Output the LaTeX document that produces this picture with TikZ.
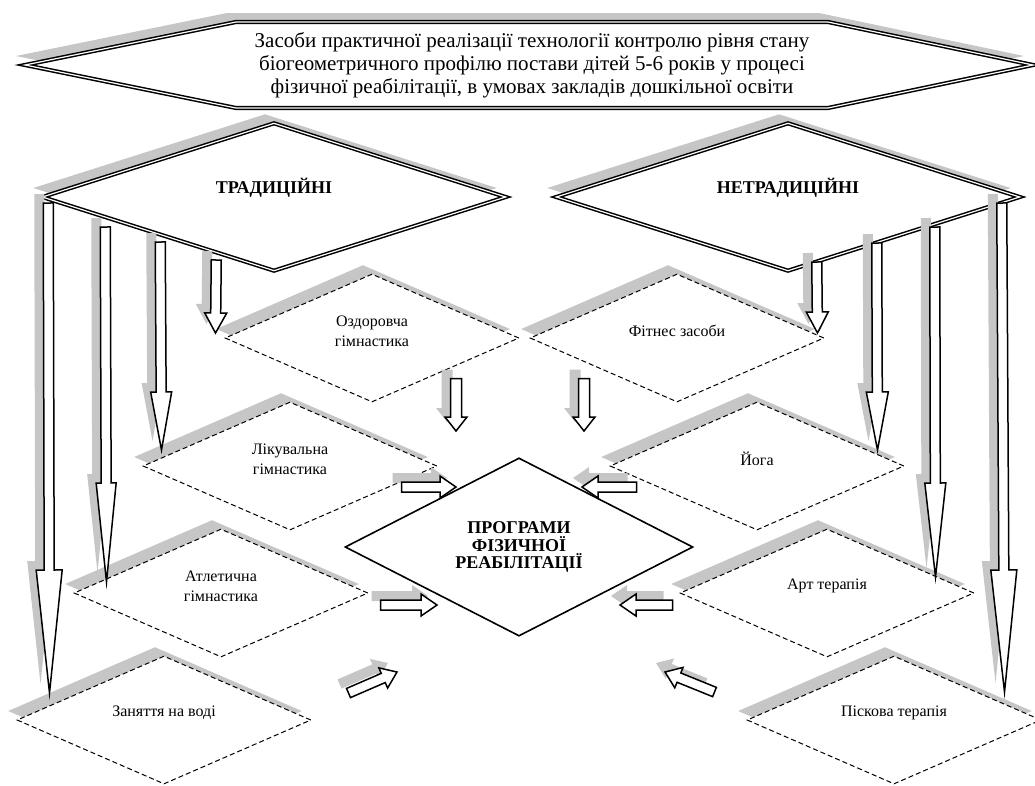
\documentclass[tikz,border=0pt]{standalone}
\usepackage{fontspec}
\setmainfont{Liberation Serif}
\usetikzlibrary{shapes.geometric,calc,shadows}

% hollow block arrow: from, to, half shaft, half head, head length
\newcommand\blockarrow[5]{%
  \coordinate (bm) at ($(#2)!#5!(#1)$);
  \filldraw[barrow] ($(#1)!#3!90:(#2)$) -- ($(bm)!#3!90:(#2)$) -- ($(bm)!#4!90:(#2)$)
    -- (#2) -- ($(bm)!#4!-90:(#2)$) -- ($(bm)!#3!-90:(#2)$) -- ($(#1)!#3!-90:(#2)$) -- cycle;}

\begin{document}
\begin{tikzpicture}[
  x = 1pt, y = -1pt,
  greyshadow/.style = {drop shadow={shadow xshift=-9pt, shadow yshift=9pt,
                       fill=gray!45, opacity=1}},
  boldframe/.style  = {draw, line width=1.5pt, double=white, double distance=1.2pt,
                       fill=white, greyshadow},
  kind/.style       = {boldframe, diamond, inner sep=0pt,
                       minimum width=464pt, minimum height=148pt},
  kindtext/.style   = {font=\fontsize{18}{20}\selectfont\bfseries, yshift=9pt},
  means/.style      = {diamond, draw, dash pattern=on 5pt off 3pt, line width=1pt,
                       fill=white, greyshadow, inner sep=0pt,
                       minimum width=294pt, minimum height=128pt},
  meanstext/.style  = {align=center, font=\fontsize{16}{20}\selectfont, yshift=7pt},
  progbox/.style    = {diamond, draw, line width=1.6pt, fill=white, inner sep=0pt,
                       minimum width=348pt, minimum height=157pt, align=center,
                       font=\fontsize{18}{17.5}\selectfont\bfseries},
  barrow/.style     = {draw, line width=1.5pt, fill=white, greyshadow}
]
\useasboundingbox (0,0) rectangle (1035,785);

% ───────── goal ─────────
\coordinate (gc) at (532,65);
\draw[boldframe] ($(gc)+(-507,0)$) -- ($(gc)+(-296,-43)$) -- ($(gc)+(296,-43)$)
  -- ($(gc)+(501,0)$) -- ($(gc)+(296,43)$) -- ($(gc)+(-296,43)$) -- cycle;
\node[align=center, font=\fontsize{21}{23}\selectfont] (goal) at (gc)
  {Засоби практичної реалізації технології контролю рівня стану\\
   біогеометричного профілю постави дітей 5-6 років у процесі\\
   фізичної реабілітації, в умовах закладів дошкільної освіти};

% ───────── two kinds ─────────
\node[kind, label={[kindtext]center:ТРАДИЦІЙНІ}]   (trad) at (274,197) {};
\node[kind, label={[kindtext]center:НЕТРАДИЦІЙНІ}] (netr) at (788,197) {};

% ───────── traditional means ─────────
\node[means, label={[meanstext]center:{Оздоровча\\гімнастика}}]  (ozd) at (372,338) {};
\node[means, label={[meanstext]center:{Лікувальна\\гімнастика}}] (lik) at (290,466) {};
\node[means, label={[meanstext]center:{Атлетична\\гімнастика}}]  (atl) at (221,593) {};
\node[means, label={[meanstext]center:Заняття на воді}]          (zan) at (164,720) {};

% ───────── non-traditional means ─────────
\node[means, label={[meanstext]center:Фітнес засоби}]   (fit)  at (677,338) {};
\node[means, label={[meanstext]center:Йога}]            (yoga) at (757,466) {};
\node[means, label={[meanstext]center:Арт терапія}]     (art)  at (827,593) {};
\node[means, label={[meanstext]center:Піскова терапія}] (pisk) at (894,720) {};

% ───────── centre ─────────
\node[progbox] (prog) at (519,547) {ПРОГРАМИ\\ФІЗИЧНОЇ\\РЕАБІЛІТАЦІЇ};

% ───────── arrow ends ─────────
\coordinate (a1) at ($(trad.west)+(7,6)$);    \coordinate (a1e) at ($(zan.west)+(33,-27)$);
\coordinate (a2) at ($(trad.west)+(64,30)$);  \coordinate (a2e) at ($(atl.west)+(33,-11)$);
\coordinate (a3) at ($(trad.west)+(119,45)$); \coordinate (a3e) at ($(lik.west)+(19,-16)$);
\coordinate (a4) at ($(trad.west)+(175,63)$); \coordinate (a4e) at ($(ozd.west)+(-9,-5)$);

\coordinate (b1) at ($(netr.east)+(-19,6)$);   \coordinate (b1e) at ($(pisk.east)+(-37,-28)$);
\coordinate (b2) at ($(netr.east)+(-86,30)$);  \coordinate (b2e) at ($(art.east)+(-39,-16)$);
\coordinate (b3) at ($(netr.east)+(-144,46)$); \coordinate (b3e) at ($(yoga.east)+(-27,-16)$);
\coordinate (b4) at ($(netr.east)+(-204,65)$); \coordinate (b4e) at ($(fit.east)+(-7,-5)$);

\coordinate (c1) at ($(ozd.south)+(84,-24)$);  \coordinate (c1e) at ($(prog)+(-63,-116)$);
\coordinate (c2) at ($(fit.south)+(-93,-24)$); \coordinate (c2e) at ($(prog)+(65,-116)$);
\coordinate (c3) at ($(lik.east)+(-36,21)$);   \coordinate (c3e) at ($(prog)+(-63,-60)$);
\coordinate (c4) at ($(yoga.west)+(27,21)$);   \coordinate (c4e) at ($(prog)+(63,-60)$);
\coordinate (c5) at ($(atl.east)+(12,12)$);    \coordinate (c5e) at ($(prog)+(-82,58)$);
\coordinate (c6) at ($(art.west)+(-7,12)$);    \coordinate (c6e) at ($(prog)+(101,58)$);
\coordinate (c7) at ($(zan.east)+(37,-27)$);   \coordinate (c7e) at ($(prog)+(-122,125)$);
\coordinate (c8) at ($(pisk.west)+(-32,-28)$); \coordinate (c8e) at ($(prog)+(146,125)$);

% ───────── arrows ─────────
\blockarrow{a1}{a1e}{5pt}{13pt}{123pt}
\blockarrow{a2}{a2e}{5pt}{10pt}{99pt}
\blockarrow{a3}{a3e}{5pt}{10.5pt}{58pt}
\blockarrow{a4}{a4e}{5pt}{11pt}{20pt}

\blockarrow{b1}{b1e}{5pt}{13pt}{122pt}
\blockarrow{b2}{b2e}{5pt}{10.5pt}{94pt}
\blockarrow{b3}{b3e}{5pt}{11pt}{58pt}
\blockarrow{b4}{b4e}{5pt}{11pt}{21pt}

\blockarrow{c1}{c1e}{5.5pt}{11pt}{14pt}
\blockarrow{c2}{c2e}{5.5pt}{11pt}{14pt}
\blockarrow{c3}{c3e}{5pt}{11pt}{16pt}
\blockarrow{c4}{c4e}{5pt}{11pt}{16pt}
\blockarrow{c5}{c5e}{5pt}{11pt}{16pt}
\blockarrow{c6}{c6e}{5pt}{11pt}{16pt}
\blockarrow{c7}{c7e}{5pt}{11pt}{15pt}
\blockarrow{c8}{c8e}{5pt}{11pt}{15pt}

\end{tikzpicture}
\end{document}
